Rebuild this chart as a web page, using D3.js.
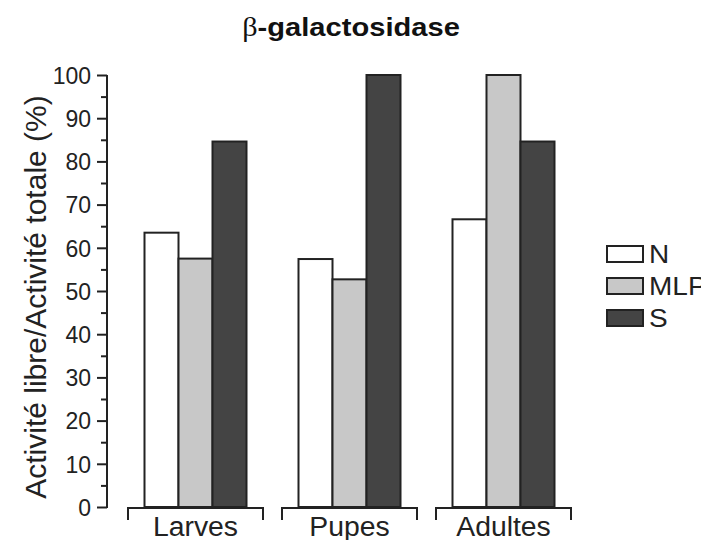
<!DOCTYPE html>
<html>
<head>
<meta charset="utf-8">
<script src="https://cdn.jsdelivr.net/npm/d3@7"></script>
<style>
  body { margin: 0; background: #fff; }
  svg { display: block; font-family: "Liberation Sans", Arial, sans-serif; }
</style>
</head>
<body>
<script>
'use strict';

// chart data
let groups = ["Larves", "Pupes", "Adultes"];
let series = ["N", "MLP", "S"];
let valuesN = [63.5, 57.4, 66.6];
let valuesMLP = [57.5, 52.7, 100];
let valuesS = [84.6, 100, 84.6];
let yTicks = [0, 10, 20, 30, 40, 50, 60, 70, 80, 90, 100];
let seriesColors = ["#ffffff", "#c8c8c8", "#444444"];

(function() {
  let svg = d3.select('body')
    .append('svg')
    .attr('width', 701)
    .attr('height', 540);

  let valuesBySeries = [valuesN, valuesMLP, valuesS];

  // scales
  let yScale = d3.scaleLinear()
    .domain([0, 100])
    .range([507, 75]);

  let xScale = d3.scaleBand()
    .domain(groups)
    .range([118.5, 580.5])
    .paddingInner(19 / 154)
    .paddingOuter(19 / 308);

  let barW = 34;
  let inner = d3.scaleBand()
    .domain(series)
    .range([(xScale.bandwidth() - barW * 3) / 2, (xScale.bandwidth() + barW * 3) / 2]);

  // title (source text is a bit wider than Arial, so stretch it)
  let title = svg.append('text')
    .attr('transform', 'translate(351, 36)scale(1.12, 1)')
    .attr('text-anchor', 'middle')
    .attr('fill', '#111')
    .style('font-size', '26px');
  title.append('tspan')
    .style('font-family', '"Liberation Serif", serif')
    .style('font-size', '27px')
    .text('β');
  title.append('tspan')
    .style('font-weight', 'bold')
    .text('-galactosidase');

  // y axis with minor ticks
  let minor = d3.range(5, 100, 10);
  svg.append('g')
    .attr('transform', 'translate(107, 0)')
    .call(d3.axisLeft(yScale).tickValues(minor).tickSize(6).tickSizeOuter(0).tickFormat(''))
    .call(g => g.select('.domain').remove())
    .call(g => g.selectAll('line').attr('stroke', '#222').attr('stroke-width', 2));

  let yAxis = svg.append('g')
    .attr('transform', 'translate(107, 0)')
    .call(d3.axisLeft(yScale).tickValues(yTicks).tickSize(10).tickSizeOuter(0).tickPadding(6));
  yAxis.select('.domain')
    .attr('stroke', '#222')
    .attr('stroke-width', 2)
    .attr('d', 'M0,' + yScale(100) + 'V' + (yScale(0) + 1));
  yAxis.selectAll('line').attr('stroke', '#222').attr('stroke-width', 2);
  yAxis.selectAll('text')
    .style('font-size', '23px')
    .style('font-family', '"Liberation Sans", Arial, sans-serif')
    .attr('fill', '#222')
    .attr('dy', '0.36em');

  // y label
  svg.append('text')
    .attr('transform', 'translate(46, 297)rotate(-90)')
    .attr('text-anchor', 'middle')
    .style('font-size', '30px')
    .attr('fill', '#222')
    .text('Activité libre/Activité totale (%)');

  // bars
  let groupG = svg.selectAll('.grp')
    .data(groups)
    .enter()
    .append('g')
      .attr('class', 'grp')
      .attr('transform', (d) => 'translate(' + xScale(d) + ', 0)');

  groupG.selectAll('rect')
    .data((d, gi) => series.map((s, si) => ({ s: s, si: si, v: valuesBySeries[si][gi] })))
    .enter()
    .append('rect')
      .attr('x', (d) => inner(d.s))
      .attr('y', (d) => yScale(d.v))
      .attr('width', inner.bandwidth())
      .attr('height', (d) => yScale(0) - yScale(d.v))
      .attr('fill', (d) => seriesColors[d.si])
      .attr('stroke', '#222')
      .attr('stroke-width', 2);

  // brackets under each group
  groupG.append('path')
    .attr('d', 'M0,520V508H' + xScale.bandwidth() + 'V520')
    .attr('fill', 'none')
    .attr('stroke', '#222')
    .attr('stroke-width', 2);

  groupG.append('text')
    .attr('transform', 'translate(' + (xScale.bandwidth() / 2) + ', 536)scale(1.05, 1)')
    .attr('text-anchor', 'middle')
    .style('font-size', '27px')
    .attr('fill', '#222')
    .text((d) => d);

  // legend
  let legend = svg.selectAll('.leg')
    .data(series)
    .enter()
    .append('g')
      .attr('class', 'leg')
      .attr('transform', (d, i) => 'translate(607, ' + (246 + i * 32) + ')');

  legend.append('rect')
    .attr('width', 36)
    .attr('height', 16)
    .attr('fill', (d, i) => seriesColors[i])
    .attr('stroke', '#222')
    .attr('stroke-width', 2);

  legend.append('text')
    .attr('transform', 'translate(42, 17)scale(1.12, 1)')
    .style('font-size', '25px')
    .attr('fill', '#222')
    .text((d) => d);
})();
</script>
</body>
</html>
